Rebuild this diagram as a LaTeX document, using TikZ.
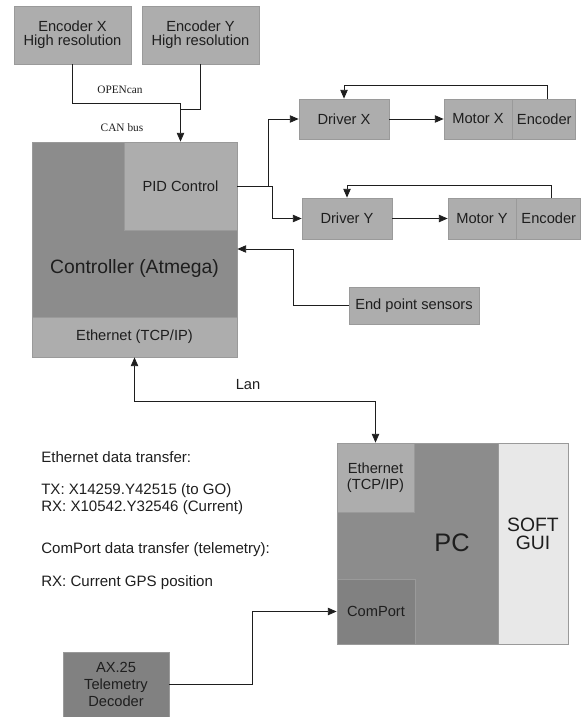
\documentclass[tikz,border=0pt]{standalone}
\usepackage{fontspec}
\setmainfont{Liberation Sans}
\newfontfamily\tagfont{Liberation Serif}
\usetikzlibrary{
  arrows.meta,
  positioning
}
\definecolor{blklight}{HTML}{ADADAD}
\definecolor{blkdark}{HTML}{8C8C8C}
\definecolor{blkdeep}{HTML}{818181}
\definecolor{blkpale}{HTML}{E8E8E8}
\definecolor{blkedge}{HTML}{9A9A9A}
\definecolor{wire}{HTML}{1E1E1E}

\begin{document}
\begin{tikzpicture}[x=0.75pt, y=-0.75pt,
      box/.style={
        rectangle, draw=blkedge, line width=0.6pt, fill=blklight,
        inner sep=0pt, minimum height=30pt,
        font=\fontsize{11}{10.5}\selectfont\color{wire}, align=center
      },
      darkbox/.style={box, fill=blkdark},
      deepbox/.style={box, fill=blkdeep},
      arrow/.style={-{Triangle[length=6.5pt, width=5.5pt]}, line width=0.6pt, wire},
      darrow/.style={{Triangle[length=6.5pt, width=5.5pt]}-{Triangle[length=6.5pt, width=5.5pt]}, line width=0.6pt, wire},
      wireline/.style={line width=0.6pt, wire},
      note/.style={anchor=west, inner sep=0pt, font=\fontsize{11.3}{11.3}\selectfont\color{wire}},
      tag/.style={inner sep=0pt, font=\tagfont\fontsize{8.5}{8.5}\selectfont\color{wire}}
    ]
      \useasboundingbox (0,0) rectangle (582,717);

      % High resolution encoders
      \node[box, minimum width=87.75pt, minimum height=43.5pt] (encx) at (72.5,35) {Encoder X\\High resolution};
      \node[box, minimum width=87.75pt, minimum height=43.5pt] (ency) at (200.5,35) {Encoder Y\\High resolution};

      % Controller
      \node[darkbox, minimum width=153.75pt, minimum height=161.25pt] (ctrl) at (134.5,249.5) {};
      \node[box, minimum width=84.75pt, minimum height=66pt, anchor=north east] (pid) at (ctrl.north east) {PID Control};
      \node[box, minimum width=153.75pt, minimum height=30pt, anchor=south] (eth) at (ctrl.south) {Ethernet (TCP/IP)};
      \node[font=\fontsize{14.5}{14.5}\selectfont\color{wire}] (ctrltxt) at (134.5,268) {Controller (Atmega)};

      % Drivers and motors
      \node[box, minimum width=67.5pt] (drvx) at (344,119) {Driver X};
      \node[box, minimum width=51pt] (motx) at (478,119) {Motor X};
      \node[box, minimum width=47.25pt, right=0pt of motx] (encmx) {Encoder};

      \node[box, minimum width=67.5pt, minimum height=30.75pt] (drvy) at (347,218.5) {Driver Y};
      \node[box, minimum width=51pt, minimum height=30.75pt] (moty) at (482,218.5) {Motor Y};
      \node[box, minimum width=48pt, minimum height=30.75pt, right=0pt of moty] (encmy) {Encoder};

      % Sensors
      \node[box, minimum width=97.5pt, minimum height=27.75pt] (endpt) at (414,305.5) {End point sensors};

      % PC
      \node[darkbox, minimum width=173.25pt, minimum height=150.75pt] (pc) at (452.5,543.5) {};
      \node[box, minimum width=57.75pt, minimum height=51.75pt, anchor=north west,
            font=\fontsize{11}{12}\selectfont\color{wire}] (pceth) at (pc.north west) {Ethernet\\(TCP/IP)};
      \node[deepbox, minimum width=58.5pt, minimum height=48.75pt, anchor=south west] (comport) at (pc.south west) {ComPort};
      \node[box, fill=blkpale, minimum width=52.5pt, minimum height=150.75pt, anchor=north east] (gui) at (pc.north east) {};
      \node[align=center, font=\fontsize{14.5}{13.5}\selectfont\color{wire}] (guitxt) at (533,534) {SOFT\\GUI};
      \node[font=\fontsize{19}{19}\selectfont\color{wire}] (pctxt) at (452,543) {PC};

      % Telemetry
      \node[deepbox, minimum width=79.5pt, minimum height=48.75pt,
            font=\fontsize{11}{12.5}\selectfont\color{wire}] (ax) at (116,684.5) {AX.25\\Telemetry\\Decoder};

      % Arrows
      \coordinate (busx) at (180.5,103);
      \coordinate (busy) at (180.5,109);
      \draw[arrow] (encx.south) |- (busx) -- (pid.north);
      \draw[wireline] (ency.south) |- (busy);
      \node[tag] (opencan) at (120,90) {OPENcan};
      \node[tag] (canbus) at (122,128) {CAN bus};

      \coordinate (splitx) at (268,186);
      \coordinate (splity) at (272,186);
      \draw[arrow] (pid.east) -- (splitx) |- (drvx.west);
      \draw[arrow] (pid.east) -- (splity) |- (drvy.west);

      \draw[arrow] (drvx) -- (motx);
      \draw[arrow] (drvy) -- (moty);

      \coordinate (fbx) at (344,85);
      \coordinate (fby) at (347,185);
      \draw[arrow] ([xshift=2.6pt]encmx.north) |- (fbx) -- (drvx.north);
      \draw[arrow] ([xshift=2.3pt]encmy.north) |- (fby) -- (drvy.north);

      \coordinate (endbend) at (293,249);
      \draw[arrow] (endpt.west) -| (endbend) -- (ctrl.east |- endbend);

      \coordinate (lanbend) at (375.5,401);
      \draw[darrow] (eth.south) |- (lanbend) -- (pceth.north);
      \node[font=\fontsize{11}{11}\selectfont\color{wire}] (lan) at (248,385) {Lan};

      \coordinate (axbend) at (252,611.5);
      \draw[arrow] (ax.east) -| (axbend) -- (comport.west);

      % Data transfer notes
      \node[note] (ethnote) at (41,457) {Ethernet data transfer:};
      \node[note] (txnote) at (41,491) {TX: X14259.Y42515 (to GO)};
      \node[note] (rxnote) at (41,508) {RX: X10542.Y32546 (Current)};
      \node[note] (comnote) at (41,550) {ComPort data transfer (telemetry):};
      \node[note] (gpsnote) at (41,583) {RX: Current GPS position};
    \end{tikzpicture}
\end{document}
